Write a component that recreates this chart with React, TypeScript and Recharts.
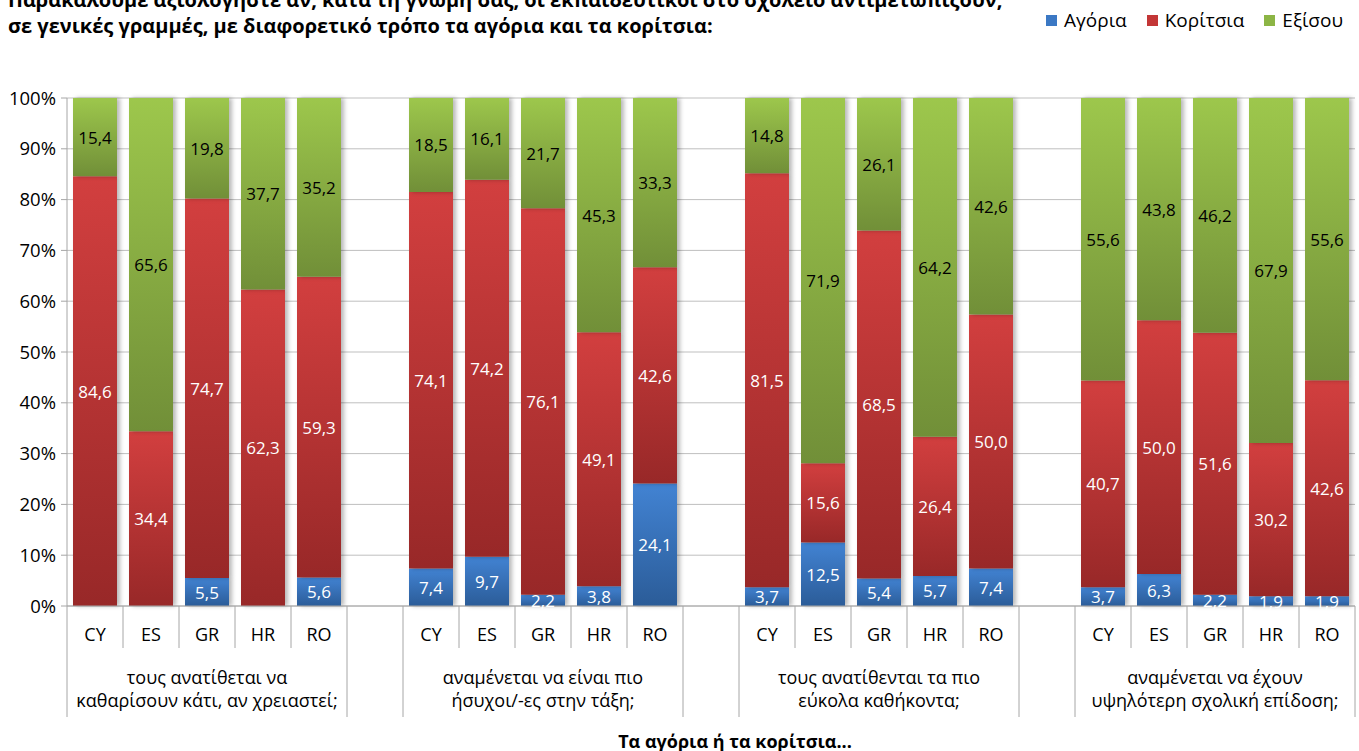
import { BarChart, Bar, XAxis, YAxis, CartesianGrid, LabelList } from "recharts";

const countries = ["CY", "ES", "GR", "HR", "RO"];
const groupLabels = [
  ["τους ανατίθεται να", "καθαρίσουν κάτι, αν χρειαστεί;"],
  ["αναμένεται να είναι πιο", "ήσυχοι/-ες στην τάξη;"],
  ["τους ανατίθενται τα πιο", "εύκολα καθήκοντα;"],
  ["αναμένεται να έχουν", "υψηλότερη σχολική επίδοση;"],
];
const boys = [
  [0, 0, 5.5, 0, 5.6],
  [7.4, 9.7, 2.2, 3.8, 24.1],
  [3.7, 12.5, 5.4, 5.7, 7.4],
  [3.7, 6.3, 2.2, 1.9, 1.9],
];
const girls = [
  [84.6, 34.4, 74.7, 62.3, 59.3],
  [74.1, 74.2, 76.1, 49.1, 42.6],
  [81.5, 15.6, 68.5, 26.4, 50.0],
  [40.7, 50.0, 51.6, 30.2, 42.6],
];
const equal = [
  [15.4, 65.6, 19.8, 37.7, 35.2],
  [18.5, 16.1, 21.7, 45.3, 33.3],
  [14.8, 71.9, 26.1, 64.2, 42.6],
  [55.6, 43.8, 46.2, 67.9, 55.6],
];
const yTicks = [0, 0.1, 0.2, 0.3, 0.4, 0.5, 0.6, 0.7, 0.8, 0.9, 1];

type Row = { k: string; cat: string; g: number; i: number; boys: number; girls: number; equal: number };

const rows: Row[] = [];
groupLabels.forEach((_, g) => {
  if (g > 0) rows.push({ k: `gap${g}`, cat: "", g, i: -1, boys: 0, girls: 0, equal: 0 });
  countries.forEach((c, i) => {
    rows.push({ k: `${c}-${g}`, cat: c, g, i, boys: boys[g][i], girls: girls[g][i], equal: equal[g][i] });
  });
});

const W = 1359;
const H = 751;
const plotLeft = 67;
const plotRight = 1355;
const plotTop = 98;
const plotBottom = 606;
const half = (plotRight - plotLeft) / rows.length / 2;
const FONT = "'Open Sans', 'Noto Sans', sans-serif";
const gridColor = "#bfbfbf";
const axisColor = "#a6a6a6";

const fmt = (v: number) => v.toFixed(1).replace(".", ",");

function XTick(props: any) {
  const { x, payload } = props;
  const row = rows.find((r) => r.k === payload.value);
  if (!row) return null;
  const y0 = plotBottom;
  const shortEnd = 648;
  const longEnd = 717;
  if (row.i < 0) {
    return <line x1={x + half} x2={x + half} y1={y0} y2={longEnd} stroke={axisColor} />;
  }
  return (
    <g>
      {row.i === 0 && row.g === 0 && (
        <line x1={x - half} x2={x - half} y1={y0} y2={longEnd} stroke={axisColor} />
      )}
      <line
        x1={x + half}
        x2={x + half}
        y1={y0}
        y2={row.i === 4 ? longEnd : shortEnd}
        stroke={axisColor}
      />
      <text x={x} y={634} textAnchor="middle" dominantBaseline="central" fontSize={18} fill="#000" fontFamily={FONT}>
        {row.cat}
      </text>
      {row.i === 2 && (
        <text textAnchor="middle" fontSize={18} fill="#000" fontFamily={FONT}>
          <tspan x={x} y={677} dominantBaseline="central">{groupLabels[row.g][0]}</tspan>
          <tspan x={x} y={700} dominantBaseline="central">{groupLabels[row.g][1]}</tspan>
        </text>
      )}
    </g>
  );
}

const makeLabel = (color: string) => (p: any) => {
  const { x, y, width, height, value } = p;
  if (!value) return null;
  return (
    <text
      x={x + width / 2}
      y={y + height / 2}
      textAnchor="middle"
      dominantBaseline="central"
      fontSize={17}
      fill={color}
      fontFamily={FONT}
    >
      {fmt(value)}
    </text>
  );
};

const legendItems = [
  { name: "Αγόρια", color: "#3b78c4" },
  { name: "Κορίτσια", color: "#c33636" },
  { name: "Εξίσου", color: "#8cb545" },
];

export default function App() {
  return (
    <div style={{ position: "absolute", left: 0, top: 0, width: W, height: H, background: "#fff", overflow: "hidden" }}>
      <style>{`.recharts-bar-rectangle path { filter: drop-shadow(3px 0px 2px rgba(0,0,0,0.28)); }`}</style>
      <div
        style={{
          position: "absolute",
          left: 8,
          top: -13,
          fontFamily: FONT,
          fontWeight: 700,
          fontSize: 20,
          lineHeight: "26px",
          color: "#000",
          whiteSpace: "nowrap",
        }}
      >
        <div>Παρακαλούμε αξιολογήστε αν, κατά τη γνώμη σας, οι εκπαιδευτικοί στο σχολείο αντιμετωπίζουν,</div>
        <div>σε γενικές γραμμές, με διαφορετικό τρόπο τα αγόρια και τα κορίτσια:</div>
      </div>
      <div
        style={{
          position: "absolute",
          right: 16,
          top: 7,
          display: "flex",
          gap: 20,
          fontFamily: FONT,
          fontSize: 19,
          color: "#000",
        }}
      >
        {legendItems.map((it) => (
          <div key={it.name} style={{ display: "flex", alignItems: "center", gap: 7 }}>
            <span style={{ width: 11, height: 11, background: it.color, display: "inline-block" }} />
            <span>{it.name}</span>
          </div>
        ))}
      </div>
      <BarChart
        width={W}
        height={H}
        data={rows}
        stackOffset="expand"
        barSize={44}
        margin={{ top: plotTop, right: W - plotRight, left: 7, bottom: 25 }}
      >
        <defs>
          <linearGradient id="gBlue" x1="0" y1="0" x2="0" y2="1">
            <stop offset="0%" stopColor="#4283d3" />
            <stop offset="100%" stopColor="#2b5c98" />
          </linearGradient>
          <linearGradient id="gRed" x1="0" y1="0" x2="0" y2="1">
            <stop offset="0%" stopColor="#d23f3f" />
            <stop offset="100%" stopColor="#982828" />
          </linearGradient>
          <linearGradient id="gGreen" x1="0" y1="0" x2="0" y2="1">
            <stop offset="0%" stopColor="#9dc74c" />
            <stop offset="100%" stopColor="#718f38" />
          </linearGradient>
        </defs>
        <CartesianGrid vertical={false} stroke={gridColor} />
        <XAxis
          dataKey="k"
          interval={0}
          tickLine={false}
          tickSize={0}
          tickMargin={0}
          height={120}
          axisLine={{ stroke: axisColor }}
          tick={<XTick />}
        />
        <YAxis
          width={60}
          domain={[0, 1]}
          ticks={yTicks}
          tickFormatter={(v: number) => `${Math.round(v * 100)}%`}
          tickSize={6}
          tickMargin={5}
          axisLine={{ stroke: axisColor }}
          tickLine={{ stroke: axisColor }}
          tick={{ fontSize: 18.5, fill: "#000", fontFamily: FONT }}
        />
        <Bar dataKey="boys" name="Αγόρια" stackId="s" fill="url(#gBlue)" isAnimationActive={false}>
          <LabelList dataKey="boys" content={makeLabel("#fff")} />
        </Bar>
        <Bar dataKey="girls" name="Κορίτσια" stackId="s" fill="url(#gRed)" isAnimationActive={false}>
          <LabelList dataKey="girls" content={makeLabel("#fff")} />
        </Bar>
        <Bar dataKey="equal" name="Εξίσου" stackId="s" fill="url(#gGreen)" isAnimationActive={false}>
          <LabelList dataKey="equal" content={makeLabel("#000")} />
        </Bar>
      </BarChart>
      <div
        style={{
          position: "absolute",
          left: 0,
          width: 1470,
          top: 729,
          textAlign: "center",
          fontFamily: FONT,
          fontWeight: 700,
          fontSize: 18,
          lineHeight: "24px",
          color: "#000",
        }}
      >
        Τα αγόρια ή τα κορίτσια...
      </div>
    </div>
  );
}
